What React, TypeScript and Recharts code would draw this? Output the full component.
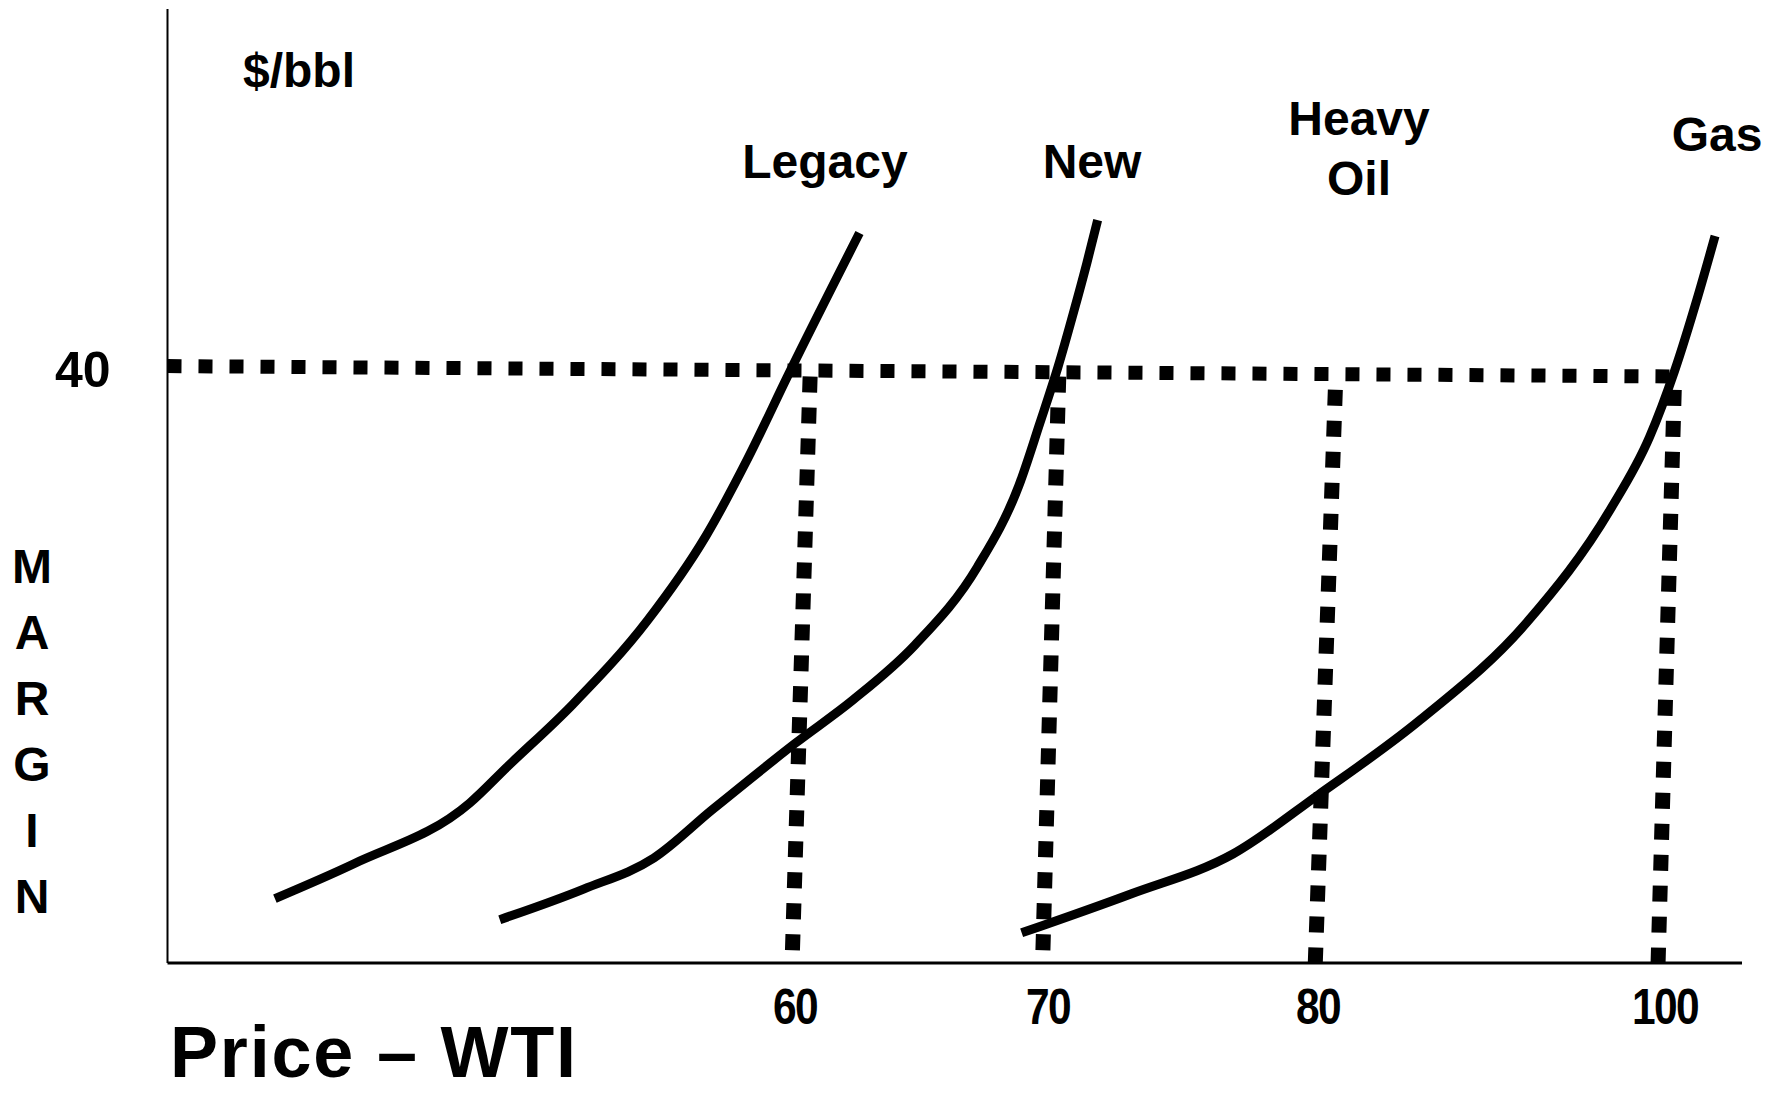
import React from "react";
import { LineChart, Line, XAxis, YAxis, ReferenceLine } from "recharts";

// price ($/bbl WTI) vs margin
const legacyCurve = [
  { x: 39.28, y: 4.34 },
  { x: 42.41, y: 6.67 },
  { x: 47.04, y: 10.77 },
  { x: 48.53, y: 13.2 },
  { x: 51.16, y: 17.44 },
  { x: 54.14, y: 23.1 },
  { x: 56.45, y: 28.75 },
  { x: 58.11, y: 33.94 },
  { x: 59.76, y: 39.7 },
  { x: 62.55, y: 49.16 },
];

const newCurve = [
  { x: 48.24, y: 2.92 },
  { x: 51.58, y: 4.98 },
  { x: 54.38, y: 7.07 },
  { x: 56.69, y: 10.3 },
  { x: 60.0, y: 14.78 },
  { x: 62.29, y: 17.71 },
  { x: 64.74, y: 21.41 },
  { x: 67.21, y: 26.67 },
  { x: 68.85, y: 32.15 },
  { x: 69.68, y: 36.36 },
  { x: 70.37, y: 40.13 },
  { x: 70.96, y: 43.9 },
  { x: 71.44, y: 47.14 },
  { x: 71.84, y: 50.03 },
];

const gasCurve = [
  { x: 68.96, y: 2.03 },
  { x: 73.07, y: 4.65 },
  { x: 76.85, y: 7.34 },
  { x: 80.0, y: 11.31 },
  { x: 85.88, y: 16.36 },
  { x: 92.05, y: 22.96 },
  { x: 96.83, y: 30.51 },
  { x: 99.11, y: 35.42 },
  { x: 100.62, y: 39.87 },
  { x: 102.14, y: 44.92 },
  { x: 103.25, y: 48.96 },
];

const priceTicks = [60, 70, 80, 100];
const marginTicks = [40];

// hand-drawn dotted guides lean a little, so keep both ends
const guideTopX = [60.6, 70.4, 81.0, 100.6];
const guideBottomX = [59.9, 69.8, 79.9, 99.6];
const guideTopY = [39.5, 39.5, 38.6, 38.6];
const guideBottomY = [0.8, 0.8, 0, 0];
const levelLine = [
  { x: 35, y: 40.2 },
  { x: 100.6, y: 39.5 },
];

const curveLabels = ["Legacy", "New", "Heavy", "Oil", "Gas"];
const yLetters = ["M", "A", "R", "G", "I", "N"];

// the price axis in the original is not evenly spaced
const xKnots = [35, 60, 70, 80, 100, 105];
const xKnotFrac = [0, 0.3985, 0.5592, 0.7307, 0.9511, 1];

function sketchScale(): any {
  let dom: number[] = [35, 105];
  let rng: number[] = [0, 1];
  const scale: any = (v: number) => {
    let i = 0;
    while (i < xKnots.length - 2 && v > xKnots[i + 1]) i++;
    const t = (v - xKnots[i]) / (xKnots[i + 1] - xKnots[i]);
    const f = xKnotFrac[i] + t * (xKnotFrac[i + 1] - xKnotFrac[i]);
    return rng[0] + f * (rng[1] - rng[0]);
  };
  scale.domain = (d?: number[]) => {
    if (d === undefined) return dom.slice();
    dom = d.slice();
    return scale;
  };
  scale.range = (r?: number[]) => {
    if (r === undefined) return rng.slice();
    rng = r.slice();
    return scale;
  };
  scale.ticks = () => priceTicks;
  scale.copy = () => sketchScale().domain(dom).range(rng);
  return scale;
}

const bold = "'Liberation Sans', Arial, sans-serif";

// tick digits in the original are condensed
const PriceTick = (props: any) => {
  const { x, y, payload } = props;
  return (
    <g transform={`translate(${x},${y}) scale(0.85,1)`}>
      <text
        x={0}
        y={0}
        dy={36}
        textAnchor="middle"
        fontFamily={bold}
        fontSize={50}
        fontWeight={700}
        letterSpacing={-2}
        fill="#000"
      >
        {payload.value}
      </text>
    </g>
  );
};

export default function App() {
  return (
    <div style={{ position: "fixed", left: 0, top: 0, width: 1774, height: 1093, background: "#fff" }}>
      <LineChart width={1774} height={1093} margin={{ top: 9, right: 32, left: 0, bottom: 0 }}>
        <XAxis
          dataKey="x"
          type="number"
          scale={sketchScale()}
          domain={[35, 105]}
          allowDataOverflow
          ticks={priceTicks}
          height={130}
          tickLine={false}
          tickSize={6}
          tickMargin={19}
          axisLine={{ stroke: "#000", strokeWidth: 3 }}
          tick={<PriceTick />}
        />
        <YAxis
          dataKey="y"
          type="number"
          domain={[0, 64.25]}
          allowDataOverflow
          ticks={marginTicks}
          width={167.5}
          tickLine={false}
          tickSize={6}
          tickMargin={51}
          axisLine={{ stroke: "#000", strokeWidth: 2 }}
          tick={{ fontFamily: bold, fontSize: 50, fontWeight: 700, fill: "#000" }}
        />

        <ReferenceLine
          segment={levelLine}
          ifOverflow="visible"
          stroke="#000"
          strokeWidth={14}
          strokeDasharray="14 17"
        />
        {priceTicks.map((p, i) => (
          <ReferenceLine
            key={p}
            segment={[
              { x: guideTopX[i], y: guideTopY[i] },
              { x: guideBottomX[i], y: guideBottomY[i] },
            ]}
            ifOverflow="visible"
            stroke="#000"
            strokeWidth={15}
            strokeDasharray="16 15"
          />
        ))}

        <Line data={legacyCurve} dataKey="y" type="monotone" stroke="#000" strokeWidth={9} dot={false} isAnimationActive={false} />
        <Line data={newCurve} dataKey="y" type="monotone" stroke="#000" strokeWidth={9} dot={false} isAnimationActive={false} />
        <Line data={gasCurve} dataKey="y" type="monotone" stroke="#000" strokeWidth={9} dot={false} isAnimationActive={false} />

        <g fontFamily={bold} fontWeight={700} fill="#000">
          <text x={243} y={87} fontSize={48}>$/bbl</text>
          <text x={825} y={178} fontSize={48} textAnchor="middle">{curveLabels[0]}</text>
          <text x={1092} y={178} fontSize={48} textAnchor="middle">{curveLabels[1]}</text>
          <text x={1359} y={135} fontSize={48} textAnchor="middle">{curveLabels[2]}</text>
          <text x={1359} y={195} fontSize={48} textAnchor="middle">{curveLabels[3]}</text>
          <text x={1717} y={151} fontSize={48} textAnchor="middle">{curveLabels[4]}</text>
          {yLetters.map((ch, i) => (
            <text key={i} x={32} y={583 + i * 66} fontSize={48} textAnchor="middle">{ch}</text>
          ))}
          <text x={170} y={1077} fontSize={72} letterSpacing={1.8}>Price – WTI</text>
        </g>
      </LineChart>
    </div>
  );
}
